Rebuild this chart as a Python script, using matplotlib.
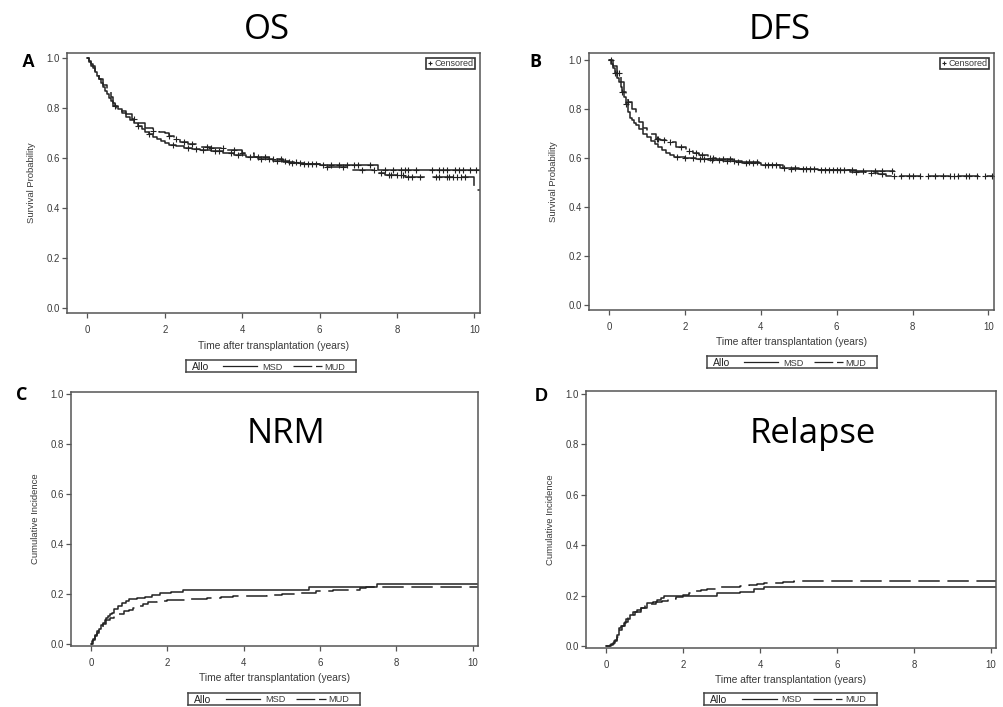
import numpy as np
import matplotlib.pyplot as plt
from matplotlib.lines import Line2D

plt.rcParams['font.family'] = ['Liberation Sans', 'DejaVu Sans']

# ---- OS (Kaplan-Meier), MSD solid / MUD dashed ----
os_msd_t = [0, 0.05, 0.1, 0.15, 0.2, 0.25, 0.3, 0.35, 0.4, 0.45, 0.5, 0.55, 0.6, 0.65,
            0.7, 0.8, 0.9, 1.0, 1.1, 1.2, 1.3, 1.4, 1.5, 1.6, 1.7, 1.8, 1.9, 2.0, 2.1,
            2.3, 2.5, 2.7, 2.9, 3.2, 3.5, 3.8, 4.1, 4.4, 4.8, 5.2, 5.6, 6.0, 7.5]
os_msd_s = [1.0, 0.99, 0.975, 0.96, 0.945, 0.93, 0.915, 0.9, 0.885, 0.87, 0.855, 0.84,
            0.83, 0.82, 0.81, 0.795, 0.78, 0.765, 0.752, 0.74, 0.728, 0.717, 0.706,
            0.696, 0.686, 0.677, 0.668, 0.66, 0.654, 0.647, 0.641, 0.636, 0.632, 0.627,
            0.621, 0.614, 0.606, 0.598, 0.589, 0.582, 0.576, 0.571, 0.553]
os_msd_cens = [1.3, 1.6, 2.2, 2.6, 2.8, 3.0, 3.3, 3.4, 3.7, 3.9, 4.2, 4.5, 4.7, 4.9, 5.1,
               5.3, 5.5, 5.7, 5.9, 6.1, 6.3, 6.5, 6.7, 6.9, 7.0, 7.3, 7.7, 7.9, 8.1, 8.2,
               8.3, 8.5, 8.9, 9.1, 9.2, 9.3, 9.5, 9.6, 9.7, 9.9, 10.05]

os_mud_t = [0, 0.05, 0.1, 0.2, 0.3, 0.4, 0.5, 0.6, 0.65, 0.75, 0.85, 1.0, 1.15, 1.3, 1.5,
            1.7, 1.85, 2.0, 2.1, 2.25, 2.4, 2.6, 2.9, 3.2, 3.6, 4.0, 4.3, 4.7, 5.06, 5.5,
            6.0, 6.8, 7.5, 7.7, 8.2, 10.0]
os_mud_s = [1.0, 0.985, 0.97, 0.945, 0.918, 0.892, 0.868, 0.846, 0.81, 0.8, 0.79, 0.775,
            0.758, 0.742, 0.72, 0.71, 0.705, 0.70, 0.69, 0.678, 0.666, 0.656, 0.646,
            0.64, 0.633, 0.62, 0.606, 0.595, 0.586, 0.576, 0.566, 0.553, 0.542, 0.533,
            0.526, 0.473]
os_mud_cens = [0.7, 1.2, 1.7, 2.1, 2.3, 2.5, 2.7, 3.1, 3.2, 3.5, 3.8, 4.0, 4.4, 4.6, 4.8,
               5.0, 5.2, 5.4, 5.6, 5.8, 6.2, 6.6, 7.1, 7.4, 7.6, 7.8, 7.85, 8.0, 8.1,
               8.15, 8.3, 8.4, 8.6, 9.0, 9.1, 9.3, 9.35, 9.45, 9.55, 9.65, 9.75]

# ---- DFS (Kaplan-Meier) ----
dfs_msd_t = [0, 0.05, 0.1, 0.15, 0.2, 0.25, 0.3, 0.35, 0.4, 0.45, 0.5, 0.55, 0.6, 0.65,
             0.7, 0.8, 0.9, 1.0, 1.1, 1.2, 1.3, 1.4, 1.5, 1.6, 1.7, 2.0, 2.3, 2.6, 3.0,
             3.5, 4.0, 4.5, 5.0, 5.5, 6.0, 6.5]
dfs_msd_s = [1.0, 0.985, 0.97, 0.95, 0.93, 0.91, 0.89, 0.87, 0.85, 0.82, 0.79, 0.765,
             0.755, 0.745, 0.735, 0.718, 0.70, 0.685, 0.67, 0.657, 0.645, 0.633, 0.622,
             0.612, 0.604, 0.601, 0.598, 0.593, 0.588, 0.58, 0.572, 0.562, 0.556, 0.553,
             0.551, 0.549]
dfs_msd_cens = [0.15, 0.35, 0.45, 1.8, 2.0, 2.2, 2.4, 2.5, 2.7, 2.9, 3.1, 3.3, 3.6, 3.8,
                4.1, 4.3, 4.6, 4.9, 5.2, 5.4, 5.7, 5.9, 6.1, 6.4, 6.7, 7.0, 7.2, 7.45]

dfs_mud_t = [0, 0.1, 0.2, 0.3, 0.4, 0.45, 0.5, 0.6, 0.7, 0.8, 0.9, 1.0, 1.1, 1.23, 1.35,
             1.5, 1.76, 2.02, 2.2, 2.38, 2.6, 2.82, 3.26, 3.96, 4.58, 5.46, 6.34, 6.78,
             7.1, 7.3]
dfs_mud_s = [1.0, 0.975, 0.95, 0.91, 0.87, 0.85, 0.83, 0.80, 0.776, 0.75, 0.725, 0.71,
             0.698, 0.68, 0.675, 0.667, 0.647, 0.63, 0.62, 0.613, 0.603, 0.595, 0.585,
             0.572, 0.558, 0.554, 0.545, 0.54, 0.535, 0.527]
dfs_mud_cens = [0.05, 0.2, 0.25, 0.5, 1.25, 1.3, 1.45, 1.6, 1.9, 2.1, 2.3, 2.45, 2.65,
                2.75, 3.0, 3.2, 3.4, 3.7, 3.9, 4.2, 4.4, 4.8, 5.1, 5.3, 5.6, 5.8, 6.0,
                6.2, 6.5, 6.9, 7.2, 7.5, 7.7, 7.9, 8.0, 8.2, 8.4, 8.6, 8.8, 9.0, 9.1,
                9.2, 9.4, 9.5, 9.7, 9.9, 10.1]

# ---- NRM (cumulative incidence) ----
nrm_msd_t = [0, 0.03, 0.06, 0.1, 0.15, 0.2, 0.25, 0.3, 0.35, 0.4, 0.45, 0.5, 0.55, 0.6,
             0.7, 0.8, 0.9, 1.0, 1.2, 1.4, 1.6, 1.8, 2.1, 2.4, 5.7, 7.5]
nrm_msd_v = [0, 0.01, 0.02, 0.035, 0.05, 0.06, 0.075, 0.085, 0.095, 0.105, 0.11, 0.12,
             0.125, 0.14, 0.15, 0.162, 0.172, 0.178, 0.182, 0.188, 0.195, 0.202, 0.206,
             0.214, 0.226, 0.24]

nrm_mud_t = [0, 0.05, 0.1, 0.15, 0.2, 0.3, 0.4, 0.5, 0.6, 0.7, 0.85, 1.0, 1.1, 1.25,
             1.37, 1.5, 1.72, 1.98, 2.5, 3.03, 3.4, 3.72, 4.6, 5.0, 5.47, 5.9, 6.34,
             7.04, 7.2]
nrm_mud_v = [0, 0.015, 0.03, 0.045, 0.06, 0.08, 0.095, 0.105, 0.11, 0.12, 0.13, 0.137,
             0.144, 0.152, 0.161, 0.166, 0.171, 0.177, 0.181, 0.184, 0.188, 0.193, 0.197,
             0.2, 0.204, 0.21, 0.217, 0.222, 0.226]

# ---- Relapse (cumulative incidence) ----
rel_msd_t = [0, 0.1, 0.17, 0.23, 0.28, 0.32, 0.38, 0.45, 0.52, 0.62, 0.7, 0.8, 0.9,
             1.06, 1.2, 1.32, 1.42, 1.49, 2.87, 3.48, 3.83, 4.09]
rel_msd_v = [0, 0.004, 0.012, 0.024, 0.045, 0.07, 0.08, 0.09, 0.105, 0.123, 0.133,
             0.143, 0.152, 0.169, 0.176, 0.182, 0.19, 0.198, 0.209, 0.215, 0.225, 0.232]

rel_mud_t = [0, 0.12, 0.2, 0.27, 0.33, 0.4, 0.48, 0.55, 0.62, 0.75, 0.9, 1.0, 1.15, 1.3,
             1.45, 1.6, 1.8, 2.0, 2.15, 2.27, 2.45, 2.61, 2.96, 3.2, 3.48, 3.7, 3.91,
             4.1, 4.35, 4.6, 4.87]
rel_mud_v = [0, 0.006, 0.02, 0.037, 0.063, 0.08, 0.096, 0.11, 0.123, 0.136, 0.149, 0.158,
             0.168, 0.176, 0.18, 0.186, 0.195, 0.202, 0.21, 0.219, 0.222, 0.225, 0.232,
             0.235, 0.238, 0.242, 0.246, 0.248, 0.251, 0.254, 0.258]

x_ticks = [0, 2, 4, 6, 8, 10]
y_ticks = [0.0, 0.2, 0.4, 0.6, 0.8, 1.0]
x_label = 'Time after transplantation (years)'

LINE = '#222222'
FRAME = '#555555'
TEXT = '#3a3a3a'
DASH = (14, 5)


def step_curve(ax, t, v, t_end, dashed=False):
    tt = list(t) + [t_end]
    vv = list(v) + [v[-1]]
    ln, = ax.step(tt, vv, where='post', color=LINE, lw=1.1)
    if dashed:
        ln.set_dashes(DASH)
    return ln


def censor_marks(ax, t, v, cens):
    idx = np.searchsorted(t, cens, side='right') - 1
    ax.plot(cens, np.asarray(v)[idx], ls='none', marker='+', ms=4, mew=0.8,
            color=LINE)


def setup_axes(ax, ylabel, ylim):
    ax.set_xlim(-0.53, 10.14)
    ax.set_ylim(*ylim)
    ax.set_xticks(x_ticks)
    ax.set_yticks(y_ticks)
    ax.set_yticklabels(['%.1f' % v for v in y_ticks])
    ax.tick_params(direction='out', length=3.5, width=0.9, color=FRAME,
                   labelsize=6.9, labelcolor=TEXT)
    ax.tick_params(axis='x', pad=5)
    ax.tick_params(axis='y', pad=1.5)
    for sp in ax.spines.values():
        sp.set_color(FRAME)
        sp.set_linewidth(1.1)
    ax.set_xlabel(x_label, fontsize=7.4, color=TEXT, labelpad=4)
    ax.set_ylabel(ylabel, fontsize=6.8, color=TEXT, labelpad=8)


def censored_key(ax):
    h = Line2D([0], [0], ls='none', marker='+', ms=3.5, mew=0.8, color=LINE)
    leg = ax.legend([h], ['Censored'], loc='upper right', fontsize=6.5,
                    fancybox=False, edgecolor='#333333', framealpha=1,
                    borderpad=0.15, handlelength=0.5, handletextpad=0.3,
                    borderaxespad=0.5)
    leg.get_frame().set_linewidth(1.2)
    for tx in leg.get_texts():
        tx.set_color(TEXT)


def allo_key(fig, rect):
    k = fig.add_axes(rect)
    k.set_xlim(0, 1)
    k.set_ylim(0, 1)
    k.set_xticks([])
    k.set_yticks([])
    for sp in k.spines.values():
        sp.set_color('#444444')
        sp.set_linewidth(1.1)
    k.text(0.035, 0.5, 'Allo', fontsize=7.4, color='#222', va='center_baseline')
    k.plot([0.22, 0.42], [0.5, 0.5], color=LINE, lw=0.9)
    k.text(0.447, 0.5, 'MSD', fontsize=6.6, color=TEXT, va='center_baseline')
    ln, = k.plot([0.63, 0.80], [0.5, 0.5], color=LINE, lw=0.9)
    ln.set_dashes((15, 3))
    k.text(0.815, 0.5, 'MUD', fontsize=6.6, color=TEXT, va='center_baseline')


fig = plt.figure(figsize=(10.04, 7.07), dpi=100)

axA = fig.add_axes([0.0667, 0.557, 0.411, 0.368])
axB = fig.add_axes([0.5867, 0.5615, 0.403, 0.3635])
axC = fig.add_axes([0.0707, 0.0863, 0.4054, 0.3593])
axD = fig.add_axes([0.5837, 0.0835, 0.4084, 0.3635])

# OS
step_curve(axA, os_msd_t, os_msd_s, 10.2)
step_curve(axA, os_mud_t, os_mud_s, 10.2, dashed=True)
censor_marks(axA, os_msd_t, os_msd_s, os_msd_cens)
censor_marks(axA, os_mud_t, os_mud_s, os_mud_cens)
setup_axes(axA, 'Survival Probability', (-0.02, 1.02))
censored_key(axA)

# DFS
step_curve(axB, dfs_msd_t, dfs_msd_s, 7.5)
step_curve(axB, dfs_mud_t, dfs_mud_s, 10.2, dashed=True)
censor_marks(axB, dfs_msd_t, dfs_msd_s, dfs_msd_cens)
censor_marks(axB, dfs_mud_t, dfs_mud_s, dfs_mud_cens)
setup_axes(axB, 'Survival Probability', (-0.02, 1.03))
censored_key(axB)

# NRM
step_curve(axC, nrm_msd_t, nrm_msd_v, 10.2)
step_curve(axC, nrm_mud_t, nrm_mud_v, 10.2, dashed=True)
setup_axes(axC, 'Cumulative Incidence', (-0.008, 1.008))

# Relapse
step_curve(axD, rel_msd_t, rel_msd_v, 10.2)
step_curve(axD, rel_mud_t, rel_mud_v, 10.2, dashed=True)
setup_axes(axD, 'Cumulative Incidence', (-0.008, 1.012))

allo_key(fig, [0.1853, 0.4738, 0.1693, 0.0165])
allo_key(fig, [0.7042, 0.4795, 0.1693, 0.0165])
allo_key(fig, [0.1873, 0.0028, 0.1713, 0.0175])
allo_key(fig, [0.7012, 0.0028, 0.1723, 0.0175])

# panel titles
big = dict(fontsize=25, family=['Open Sans', 'DejaVu Sans'], ha='center', va='baseline')
fig.text(0.266, 0.9448, 'OS', **big)
fig.text(0.777, 0.9448, 'DFS', **big)
fig.text(0.285, 0.3734, 'NRM', **big)
fig.text(0.81, 0.3734, 'Relapse', **big)

# panel letters
fig.text(0.021, 0.905, 'A', fontsize=13, fontweight='bold', va='baseline')
fig.text(0.527, 0.905, 'B', fontsize=13, fontweight='bold', va='baseline',
         family=['Open Sans', 'DejaVu Sans'])
fig.text(0.016, 0.434, 'C', fontsize=13, fontweight='bold', va='baseline',
         family=['Open Sans', 'DejaVu Sans'])
fig.text(0.533, 0.433, 'D', fontsize=13, fontweight='bold', va='baseline')

fig.savefig('out.png', dpi=100)
